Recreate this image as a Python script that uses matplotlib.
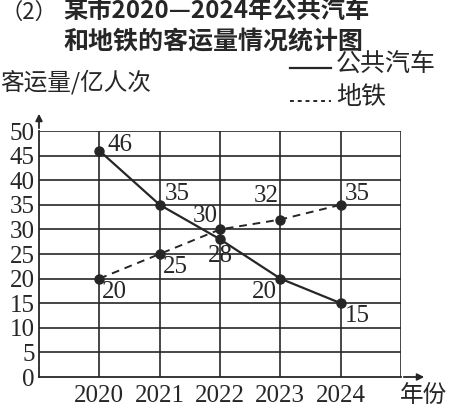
import matplotlib
matplotlib.use("Agg")
import matplotlib.pyplot as plt
from matplotlib.lines import Line2D

years = [2020, 2021, 2022, 2023, 2024]
bus = [46, 35, 28, 20, 15]
metro = [20, 25, 30, 32, 35]
yticks = [0, 5, 10, 15, 20, 25, 30, 35, 40, 45, 50]
bus_offsets = [(8, 6, 'left'), (5, 11, 'left'), (0, -17, 'center'), (-3, -13, 'right'), (4, -13, 'left')]
metro_offsets = [(3, -13, 'left'), (3, -13, 'left'), (-2, 13, 'right'), (-2, 24, 'right'), (4, 11, 'left')]

W, H = 456, 412
DPI = 100
fig = plt.figure(figsize=(W / DPI, H / DPI), dpi=DPI)
fig.patch.set_facecolor('white')

CJK = ['Noto Sans CJK SC', 'DejaVu Sans']
SERIF = ['Liberation Serif', 'DejaVu Serif']
INK = '#262626'

def fx(x):
    return x / W

def fy(y):
    return 1 - y / H

left, right, top, bottom = 39, 401, 131, 377
ax = fig.add_axes([fx(left), fy(bottom), (right - left) / W, (bottom - top) / H])
ax.set_xlim(2019, 2025)
ax.set_ylim(0, 50)

# grid
for yv in yticks[1:]:
    ax.axhline(yv, color=INK, lw=1.2, zorder=1)
for xv in years + [2025]:
    ax.axvline(xv, color=INK, lw=1.2, zorder=1)

for s in ['top', 'right']:
    ax.spines[s].set_visible(False)
for s in ['left', 'bottom']:
    ax.spines[s].set_color(INK)
    ax.spines[s].set_linewidth(1.3)

ax.set_xticks(years)
ax.set_xticklabels([str(y) for y in years], family=SERIF, fontsize=18, color=INK)
ax.set_yticks(yticks)
ax.set_yticklabels([str(v) for v in yticks], family=SERIF, fontsize=18, color=INK)
ax.tick_params(length=0, pad=3)
ax.tick_params(axis='x', pad=6)

# axis arrows
ax.annotate('', xy=(fx(427), fy(bottom)), xycoords='figure fraction',
            xytext=(fx(right), fy(bottom)), textcoords='figure fraction',
            arrowprops=dict(arrowstyle='-|>', color=INK, lw=1.3, mutation_scale=10))
ax.annotate('', xy=(fx(left), fy(111)), xycoords='figure fraction',
            xytext=(fx(left), fy(top)), textcoords='figure fraction',
            arrowprops=dict(arrowstyle='-|>', color=INK, lw=1.3, mutation_scale=10))

# lines
ax.plot(years, bus, color=INK, lw=1.6, zorder=3, marker='o', markersize=6.5)
ax.plot(years, metro, color=INK, lw=1.4, ls=(0, (4, 3)), zorder=3, marker='o', markersize=6.5)

for x, v, (dx, dy, ha) in zip(years, bus, bus_offsets):
    ax.annotate(str(v), (x, v), xytext=(dx, dy), textcoords='offset pixels',
                ha=ha, va='center', family=SERIF, fontsize=18, color=INK, zorder=4)
for x, v, (dx, dy, ha) in zip(years, metro, metro_offsets):
    ax.annotate(str(v), (x, v), xytext=(dx, dy), textcoords='offset pixels',
                ha=ha, va='center', family=SERIF, fontsize=18, color=INK, zorder=4)

# titles and labels
fig.text(fx(0), fy(12), '（2）', family=CJK, fontsize=16, color=INK, va='center', ha='left')
fig.text(fx(63), fy(12), '某市2020—2024年公共汽车', family=CJK, fontsize=17.5,
         fontweight='bold', color=INK, va='center', ha='left')
fig.text(fx(63), fy(42), '和地铁的客运量情况统计图', family=CJK, fontsize=18,
         fontweight='bold', color=INK, va='center', ha='left')
fig.text(fx(0), fy(82), '客运量/亿人次', family=CJK, fontsize=17, color=INK, va='center', ha='left')
fig.text(fx(400), fy(395), '年份', family=CJK, fontsize=17, color=INK, va='center', ha='left')

# legend
fig.add_artist(Line2D([fx(290), fx(331)], [fy(68), fy(68)], color=INK, lw=1.6))
fig.add_artist(Line2D([fx(290), fx(331)], [fy(101), fy(101)], color=INK, lw=1.4, ls=(0, (2, 2))))
fig.text(fx(336), fy(65), '公共汽车', family=CJK, fontsize=18, color=INK, va='center', ha='left')
fig.text(fx(336), fy(97), '地铁', family=CJK, fontsize=18, color=INK, va='center', ha='left')

fig.savefig('out.png', dpi=DPI, facecolor='white')
